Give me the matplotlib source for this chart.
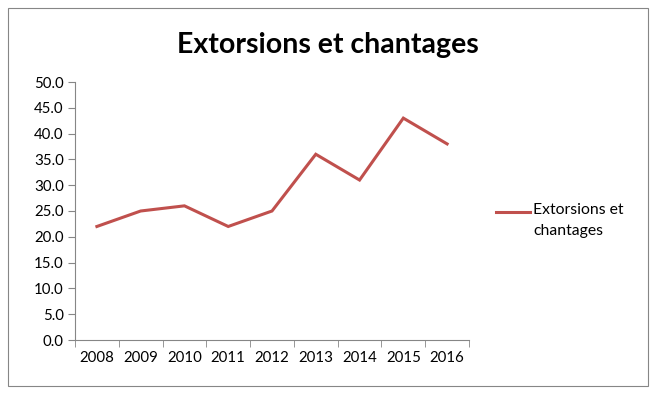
import matplotlib
matplotlib.use("Agg")
import matplotlib.pyplot as plt
from matplotlib.patches import Rectangle
from matplotlib.lines import Line2D

years = ["2008", "2009", "2010", "2011", "2012", "2013", "2014", "2015", "2016"]
values = [22, 25, 26, 22, 25, 36, 31, 43, 38]
yticks = [0, 5, 10, 15, 20, 25, 30, 35, 40, 45, 50]
title = "Extorsions et chantages"
legend_label = "Extorsions et\nchantages"

plt.rcParams['font.family'] = ['Lato', 'DejaVu Sans']
W, H = 657, 399
fig = plt.figure(figsize=(W / 100, H / 100), dpi=100)
fig.patch.set_facecolor("white")

# outer frame
fig.add_artist(Rectangle((8 / W, 1 - 386 / H), (648 - 8) / W, (386 - 8) / H,
                         transform=fig.transFigure, fill=False,
                         edgecolor="#868686", linewidth=0.8))

ax = fig.add_axes([75 / W, 1 - 340 / H, (469 - 75) / W, (340 - 82) / H])
n = len(years)
x = list(range(n))
ax.plot(x, values, color="#C0504D", linewidth=2.2, solid_joinstyle="miter")
ax.set_xlim(-0.5, n - 0.5)
ax.set_ylim(0, 50)
ax.set_yticks(yticks)
ax.set_yticklabels([f"{v:.1f}" for v in yticks])
ax.set_xticks(x)
ax.set_xticklabels(years)
ax.set_xticks([i - 0.5 for i in range(n + 1)], minor=True)
ax.tick_params(axis="x", which="major", length=0, labelsize=10.8, pad=8, colors="black")
ax.tick_params(axis="x", which="minor", length=5, direction="out", color="#868686")
ax.tick_params(axis="y", length=5, direction="out", color="#868686", labelsize=10.8, pad=3)
for s in ["top", "right"]:
    ax.spines[s].set_visible(False)
for s in ["left", "bottom"]:
    ax.spines[s].set_color("#868686")
    ax.spines[s].set_linewidth(0.8)

fig.text(328 / W, 1 - 45 / H, title, ha="center", va="center",
         fontsize=20.5, fontweight="bold")

# legend
fig.add_artist(Line2D([496 / W, 530 / W], [1 - 212 / H, 1 - 212 / H],
                      transform=fig.transFigure, color="#C0504D", linewidth=2.2))
fig.text(533 / W, 1 - 203 / H, legend_label, ha="left", va="top",
         fontsize=11.3, linespacing=1.6)

fig.savefig("out.png", dpi=100, facecolor="white")
